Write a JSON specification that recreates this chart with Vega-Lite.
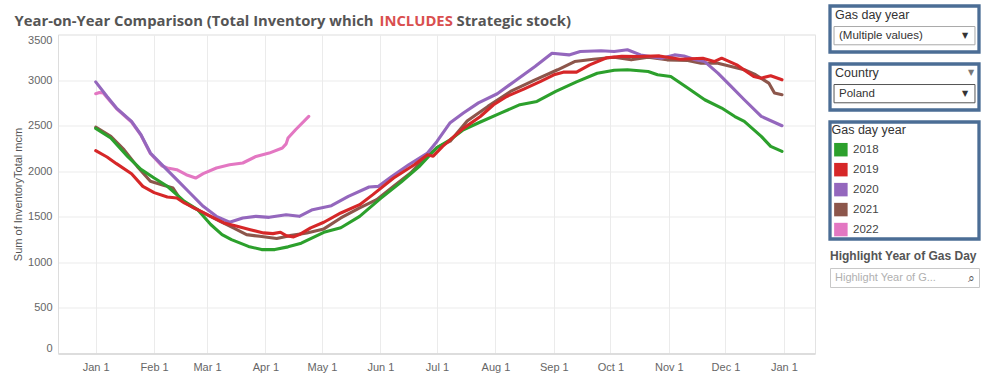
{
  "$schema": "https://vega.github.io/schema/vega-lite/v6.json",
  "background": "white",
  "padding": {"left": 12, "top": 4, "right": 6, "bottom": 4},
  "config": {
    "font": "Liberation Sans",
    "axis": {"labelFont": "Liberation Sans", "titleFont": "Liberation Sans"},
    "text": {"font": "Liberation Sans"}
  },
  "datasets": {
    "inventory": [
      {"day": "2019-01-01", "year": "2022", "inventory": 2850},
      {"day": "2019-01-03", "year": "2022", "inventory": 2864},
      {"day": "2019-01-05", "year": "2022", "inventory": 2858},
      {"day": "2019-01-07", "year": "2022", "inventory": 2810},
      {"day": "2019-01-12", "year": "2022", "inventory": 2688},
      {"day": "2019-01-20", "year": "2022", "inventory": 2540},
      {"day": "2019-01-25", "year": "2022", "inventory": 2395},
      {"day": "2019-01-30", "year": "2022", "inventory": 2195},
      {"day": "2019-02-05", "year": "2022", "inventory": 2060},
      {"day": "2019-02-08", "year": "2022", "inventory": 2035},
      {"day": "2019-02-13", "year": "2022", "inventory": 2017},
      {"day": "2019-02-18", "year": "2022", "inventory": 1962},
      {"day": "2019-02-23", "year": "2022", "inventory": 1925},
      {"day": "2019-02-27", "year": "2022", "inventory": 1973},
      {"day": "2019-03-06", "year": "2022", "inventory": 2035},
      {"day": "2019-03-13", "year": "2022", "inventory": 2071},
      {"day": "2019-03-20", "year": "2022", "inventory": 2090},
      {"day": "2019-03-27", "year": "2022", "inventory": 2162},
      {"day": "2019-04-03", "year": "2022", "inventory": 2199},
      {"day": "2019-04-10", "year": "2022", "inventory": 2254},
      {"day": "2019-04-12", "year": "2022", "inventory": 2300},
      {"day": "2019-04-13", "year": "2022", "inventory": 2364},
      {"day": "2019-04-17", "year": "2022", "inventory": 2455},
      {"day": "2019-04-24", "year": "2022", "inventory": 2601},

      {"day": "2019-01-01", "year": "2021", "inventory": 2483},
      {"day": "2019-01-09", "year": "2021", "inventory": 2382},
      {"day": "2019-01-16", "year": "2021", "inventory": 2236},
      {"day": "2019-01-23", "year": "2021", "inventory": 2053},
      {"day": "2019-01-30", "year": "2021", "inventory": 1889},
      {"day": "2019-02-05", "year": "2021", "inventory": 1852},
      {"day": "2019-02-11", "year": "2021", "inventory": 1816},
      {"day": "2019-02-15", "year": "2021", "inventory": 1688},
      {"day": "2019-02-22", "year": "2021", "inventory": 1597},
      {"day": "2019-03-01", "year": "2021", "inventory": 1523},
      {"day": "2019-03-08", "year": "2021", "inventory": 1450},
      {"day": "2019-03-15", "year": "2021", "inventory": 1378},
      {"day": "2019-03-22", "year": "2021", "inventory": 1304},
      {"day": "2019-03-29", "year": "2021", "inventory": 1286},
      {"day": "2019-04-07", "year": "2021", "inventory": 1262},
      {"day": "2019-04-14", "year": "2021", "inventory": 1293},
      {"day": "2019-04-23", "year": "2021", "inventory": 1323},
      {"day": "2019-05-02", "year": "2021", "inventory": 1367},
      {"day": "2019-05-11", "year": "2021", "inventory": 1487},
      {"day": "2019-05-21", "year": "2021", "inventory": 1597},
      {"day": "2019-05-30", "year": "2021", "inventory": 1688},
      {"day": "2019-06-08", "year": "2021", "inventory": 1834},
      {"day": "2019-06-17", "year": "2021", "inventory": 1980},
      {"day": "2019-06-22", "year": "2021", "inventory": 2090},
      {"day": "2019-07-01", "year": "2021", "inventory": 2258},
      {"day": "2019-07-08", "year": "2021", "inventory": 2330},
      {"day": "2019-07-17", "year": "2021", "inventory": 2550},
      {"day": "2019-07-28", "year": "2021", "inventory": 2711},
      {"day": "2019-08-09", "year": "2021", "inventory": 2875},
      {"day": "2019-08-22", "year": "2021", "inventory": 3003},
      {"day": "2019-09-03", "year": "2021", "inventory": 3113},
      {"day": "2019-09-12", "year": "2021", "inventory": 3203},
      {"day": "2019-09-22", "year": "2021", "inventory": 3229},
      {"day": "2019-10-03", "year": "2021", "inventory": 3250},
      {"day": "2019-10-12", "year": "2021", "inventory": 3222},
      {"day": "2019-10-21", "year": "2021", "inventory": 3250},
      {"day": "2019-10-31", "year": "2021", "inventory": 3222},
      {"day": "2019-11-11", "year": "2021", "inventory": 3214},
      {"day": "2019-11-18", "year": "2021", "inventory": 3185},
      {"day": "2019-11-27", "year": "2021", "inventory": 3185},
      {"day": "2019-12-04", "year": "2021", "inventory": 3149},
      {"day": "2019-12-11", "year": "2021", "inventory": 3113},
      {"day": "2019-12-17", "year": "2021", "inventory": 3058},
      {"day": "2019-12-24", "year": "2021", "inventory": 2967},
      {"day": "2019-12-27", "year": "2021", "inventory": 2857},
      {"day": "2019-12-31", "year": "2021", "inventory": 2839},

      {"day": "2019-01-01", "year": "2020", "inventory": 2980},
      {"day": "2019-01-07", "year": "2020", "inventory": 2820},
      {"day": "2019-01-12", "year": "2020", "inventory": 2693},
      {"day": "2019-01-20", "year": "2020", "inventory": 2546},
      {"day": "2019-01-25", "year": "2020", "inventory": 2400},
      {"day": "2019-01-30", "year": "2020", "inventory": 2199},
      {"day": "2019-02-06", "year": "2020", "inventory": 2053},
      {"day": "2019-02-13", "year": "2020", "inventory": 1907},
      {"day": "2019-02-20", "year": "2020", "inventory": 1761},
      {"day": "2019-02-27", "year": "2020", "inventory": 1615},
      {"day": "2019-03-06", "year": "2020", "inventory": 1505},
      {"day": "2019-03-13", "year": "2020", "inventory": 1440},
      {"day": "2019-03-20", "year": "2020", "inventory": 1487},
      {"day": "2019-03-27", "year": "2020", "inventory": 1505},
      {"day": "2019-04-03", "year": "2020", "inventory": 1494},
      {"day": "2019-04-12", "year": "2020", "inventory": 1523},
      {"day": "2019-04-19", "year": "2020", "inventory": 1505},
      {"day": "2019-04-26", "year": "2020", "inventory": 1578},
      {"day": "2019-05-06", "year": "2020", "inventory": 1622},
      {"day": "2019-05-15", "year": "2020", "inventory": 1724},
      {"day": "2019-05-26", "year": "2020", "inventory": 1827},
      {"day": "2019-05-31", "year": "2020", "inventory": 1834},
      {"day": "2019-06-07", "year": "2020", "inventory": 1943},
      {"day": "2019-06-16", "year": "2020", "inventory": 2071},
      {"day": "2019-06-26", "year": "2020", "inventory": 2200},
      {"day": "2019-07-01", "year": "2020", "inventory": 2327},
      {"day": "2019-07-08", "year": "2020", "inventory": 2532},
      {"day": "2019-07-15", "year": "2020", "inventory": 2638},
      {"day": "2019-07-23", "year": "2020", "inventory": 2750},
      {"day": "2019-08-02", "year": "2020", "inventory": 2850},
      {"day": "2019-08-11", "year": "2020", "inventory": 2985},
      {"day": "2019-08-22", "year": "2020", "inventory": 3149},
      {"day": "2019-08-31", "year": "2020", "inventory": 3295},
      {"day": "2019-09-09", "year": "2020", "inventory": 3276},
      {"day": "2019-09-15", "year": "2020", "inventory": 3313},
      {"day": "2019-09-26", "year": "2020", "inventory": 3321},
      {"day": "2019-10-03", "year": "2020", "inventory": 3313},
      {"day": "2019-10-10", "year": "2020", "inventory": 3332},
      {"day": "2019-10-17", "year": "2020", "inventory": 3276},
      {"day": "2019-10-28", "year": "2020", "inventory": 3240},
      {"day": "2019-11-04", "year": "2020", "inventory": 3276},
      {"day": "2019-11-09", "year": "2020", "inventory": 3265},
      {"day": "2019-11-15", "year": "2020", "inventory": 3222},
      {"day": "2019-11-20", "year": "2020", "inventory": 3203},
      {"day": "2019-11-27", "year": "2020", "inventory": 3076},
      {"day": "2019-12-04", "year": "2020", "inventory": 2930},
      {"day": "2019-12-11", "year": "2020", "inventory": 2784},
      {"day": "2019-12-20", "year": "2020", "inventory": 2601},
      {"day": "2019-12-31", "year": "2020", "inventory": 2499},

      {"day": "2019-01-01", "year": "2018", "inventory": 2470},
      {"day": "2019-01-09", "year": "2018", "inventory": 2364},
      {"day": "2019-01-18", "year": "2018", "inventory": 2160},
      {"day": "2019-01-25", "year": "2018", "inventory": 2020},
      {"day": "2019-02-01", "year": "2018", "inventory": 1925},
      {"day": "2019-02-08", "year": "2018", "inventory": 1835},
      {"day": "2019-02-17", "year": "2018", "inventory": 1670},
      {"day": "2019-02-24", "year": "2018", "inventory": 1580},
      {"day": "2019-03-03", "year": "2018", "inventory": 1415},
      {"day": "2019-03-09", "year": "2018", "inventory": 1305},
      {"day": "2019-03-14", "year": "2018", "inventory": 1250},
      {"day": "2019-03-23", "year": "2018", "inventory": 1175},
      {"day": "2019-03-30", "year": "2018", "inventory": 1140},
      {"day": "2019-04-06", "year": "2018", "inventory": 1140},
      {"day": "2019-04-13", "year": "2018", "inventory": 1170},
      {"day": "2019-04-20", "year": "2018", "inventory": 1210},
      {"day": "2019-05-02", "year": "2018", "inventory": 1330},
      {"day": "2019-05-11", "year": "2018", "inventory": 1380},
      {"day": "2019-05-21", "year": "2018", "inventory": 1505},
      {"day": "2019-06-01", "year": "2018", "inventory": 1700},
      {"day": "2019-06-12", "year": "2018", "inventory": 1880},
      {"day": "2019-06-22", "year": "2018", "inventory": 2060},
      {"day": "2019-07-01", "year": "2018", "inventory": 2260},
      {"day": "2019-07-08", "year": "2018", "inventory": 2345},
      {"day": "2019-07-15", "year": "2018", "inventory": 2455},
      {"day": "2019-07-24", "year": "2018", "inventory": 2540},
      {"day": "2019-08-04", "year": "2018", "inventory": 2640},
      {"day": "2019-08-14", "year": "2018", "inventory": 2730},
      {"day": "2019-08-23", "year": "2018", "inventory": 2765},
      {"day": "2019-09-02", "year": "2018", "inventory": 2875},
      {"day": "2019-09-13", "year": "2018", "inventory": 2980},
      {"day": "2019-09-24", "year": "2018", "inventory": 3075},
      {"day": "2019-10-03", "year": "2018", "inventory": 3108},
      {"day": "2019-10-10", "year": "2018", "inventory": 3113},
      {"day": "2019-10-21", "year": "2018", "inventory": 3094},
      {"day": "2019-10-26", "year": "2018", "inventory": 3058},
      {"day": "2019-11-02", "year": "2018", "inventory": 3040},
      {"day": "2019-11-11", "year": "2018", "inventory": 2912},
      {"day": "2019-11-20", "year": "2018", "inventory": 2784},
      {"day": "2019-11-29", "year": "2018", "inventory": 2693},
      {"day": "2019-12-06", "year": "2018", "inventory": 2600},
      {"day": "2019-12-11", "year": "2018", "inventory": 2546},
      {"day": "2019-12-20", "year": "2018", "inventory": 2382},
      {"day": "2019-12-25", "year": "2018", "inventory": 2272},
      {"day": "2019-12-31", "year": "2018", "inventory": 2217},

      {"day": "2019-01-01", "year": "2019", "inventory": 2225},
      {"day": "2019-01-07", "year": "2019", "inventory": 2156},
      {"day": "2019-01-12", "year": "2019", "inventory": 2083},
      {"day": "2019-01-20", "year": "2019", "inventory": 1973},
      {"day": "2019-01-26", "year": "2019", "inventory": 1834},
      {"day": "2019-02-01", "year": "2019", "inventory": 1765},
      {"day": "2019-02-08", "year": "2019", "inventory": 1717},
      {"day": "2019-02-13", "year": "2019", "inventory": 1706},
      {"day": "2019-02-17", "year": "2019", "inventory": 1652},
      {"day": "2019-02-24", "year": "2019", "inventory": 1578},
      {"day": "2019-03-03", "year": "2019", "inventory": 1505},
      {"day": "2019-03-10", "year": "2019", "inventory": 1432},
      {"day": "2019-03-17", "year": "2019", "inventory": 1395},
      {"day": "2019-03-24", "year": "2019", "inventory": 1359},
      {"day": "2019-03-31", "year": "2019", "inventory": 1323},
      {"day": "2019-04-05", "year": "2019", "inventory": 1315},
      {"day": "2019-04-09", "year": "2019", "inventory": 1330},
      {"day": "2019-04-12", "year": "2019", "inventory": 1293},
      {"day": "2019-04-16", "year": "2019", "inventory": 1279},
      {"day": "2019-04-19", "year": "2019", "inventory": 1304},
      {"day": "2019-04-25", "year": "2019", "inventory": 1378},
      {"day": "2019-05-02", "year": "2019", "inventory": 1440},
      {"day": "2019-05-11", "year": "2019", "inventory": 1542},
      {"day": "2019-05-21", "year": "2019", "inventory": 1633},
      {"day": "2019-05-28", "year": "2019", "inventory": 1743},
      {"day": "2019-06-08", "year": "2019", "inventory": 1926},
      {"day": "2019-06-19", "year": "2019", "inventory": 2071},
      {"day": "2019-06-26", "year": "2019", "inventory": 2181},
      {"day": "2019-06-29", "year": "2019", "inventory": 2165},
      {"day": "2019-07-04", "year": "2019", "inventory": 2272},
      {"day": "2019-07-15", "year": "2019", "inventory": 2470},
      {"day": "2019-07-24", "year": "2019", "inventory": 2600},
      {"day": "2019-07-31", "year": "2019", "inventory": 2729},
      {"day": "2019-08-07", "year": "2019", "inventory": 2820},
      {"day": "2019-08-16", "year": "2019", "inventory": 2900},
      {"day": "2019-08-25", "year": "2019", "inventory": 2985},
      {"day": "2019-09-01", "year": "2019", "inventory": 3058},
      {"day": "2019-09-06", "year": "2019", "inventory": 3087},
      {"day": "2019-09-13", "year": "2019", "inventory": 3087},
      {"day": "2019-09-20", "year": "2019", "inventory": 3167},
      {"day": "2019-09-29", "year": "2019", "inventory": 3245},
      {"day": "2019-10-07", "year": "2019", "inventory": 3260},
      {"day": "2019-10-16", "year": "2019", "inventory": 3258},
      {"day": "2019-10-27", "year": "2019", "inventory": 3265},
      {"day": "2019-11-07", "year": "2019", "inventory": 3229},
      {"day": "2019-11-19", "year": "2019", "inventory": 3240},
      {"day": "2019-11-25", "year": "2019", "inventory": 3203},
      {"day": "2019-11-29", "year": "2019", "inventory": 3240},
      {"day": "2019-12-07", "year": "2019", "inventory": 3167},
      {"day": "2019-12-16", "year": "2019", "inventory": 3039},
      {"day": "2019-12-20", "year": "2019", "inventory": 3021},
      {"day": "2019-12-25", "year": "2019", "inventory": 3047},
      {"day": "2019-12-31", "year": "2019", "inventory": 3003}
    ]
  },
  "spacing": 12,
  "hconcat": [
    {
      "spacing": 4.5,
      "vconcat": [
        {
          "width": 757,
          "height": 2,
          "view": {"stroke": null},
          "data": {"values": []},
          "mark": {"type": "rect"}
        },
        {
          "width": 757,
          "height": 319,
          "view": {"stroke": "#e3e3e3", "strokeWidth": 1},
          "data": {"name": "inventory"},
          "encoding": {
            "color": {
              "field": "year",
              "type": "nominal",
              "scale": {
                "domain": ["2018", "2019", "2020", "2021", "2022"],
                "range": ["#2ca02c", "#d62728", "#9467bd", "#8c564b", "#e377c2"]
              },
              "legend": null
            }
          },
          "resolve": {"axis": {"x": "independent", "y": "independent"}},
          "layer": [
            {
              "transform": [{"filter": "datum.year === '2022'"}],
              "mark": {"type": "line", "strokeWidth": 3.1, "strokeJoin": "round", "strokeCap": "round"},
              "encoding": {
                "x": {
                  "field": "day",
                  "type": "temporal",
                  "scale": {
                    "type": "utc",
                    "domain": [
                      {"year": 2018, "month": 12, "date": 12, "utc": true},
                      {"year": 2020, "month": 1, "date": 17, "hours": 12, "utc": true}
                    ]
                  },
                  "axis": {
                    "orient": "bottom",
                    "values": [
                      {"year": 2019, "month": 1, "date": 1, "utc": true},
                      {"year": 2019, "month": 2, "date": 1, "utc": true},
                      {"year": 2019, "month": 3, "date": 1, "utc": true},
                      {"year": 2019, "month": 4, "date": 1, "utc": true},
                      {"year": 2019, "month": 5, "date": 1, "utc": true},
                      {"year": 2019, "month": 6, "date": 1, "utc": true},
                      {"year": 2019, "month": 7, "date": 1, "utc": true},
                      {"year": 2019, "month": 8, "date": 1, "utc": true},
                      {"year": 2019, "month": 9, "date": 1, "utc": true},
                      {"year": 2019, "month": 10, "date": 1, "utc": true},
                      {"year": 2019, "month": 11, "date": 1, "utc": true},
                      {"year": 2019, "month": 12, "date": 1, "utc": true},
                      {"year": 2020, "month": 1, "date": 1, "utc": true}
                    ],
                    "format": "%b %-d",
                    "labelColor": "#666666",
                    "labelFontSize": 11,
                    "labelPadding": 8,
                    "ticks": false,
                    "domainColor": "#cccccc",
                    "gridColor": "#ebebeb",
                    "title": "INCLUDES",
                    "titleColor": "#d94f4f",
                    "titleFont": "Open Sans",
                    "titleFontSize": 14.8,
                    "titleFontWeight": "bold",
                    "titleAlign": "left",
                    "titleBaseline": "alphabetic",
                    "titleX": 321,
                    "titleY": -328
                  }
                },
                "y": {
                  "field": "inventory",
                  "type": "quantitative",
                  "scale": {"domain": [0, 3500], "nice": false},
                  "axis": {
                    "orient": "left",
                    "values": [0, 500, 1000, 1500, 2000, 2500, 3000, 3500],
                    "format": "d",
                    "title": "Sum of InventoryTotal mcm",
                    "titleFontSize": 11,
                    "titleFontWeight": "normal",
                    "titleColor": "#555555",
                    "titlePadding": 4,
                    "labelColor": "#666666",
                    "labelFontSize": 11,
                    "labelFlush": true,
                    "labelPadding": 6,
                    "ticks": false,
                    "domainColor": "#dddddd",
                    "gridColor": "#ebebeb"
                  }
                }
              }
            },
            {
              "transform": [{"filter": "datum.year !== '2022'"}],
              "mark": {"type": "line", "strokeWidth": 3.1, "strokeJoin": "round", "strokeCap": "round"},
              "encoding": {
                "x": {
                  "field": "day",
                  "type": "temporal",
                  "scale": {
                    "type": "utc",
                    "domain": [
                      {"year": 2018, "month": 12, "date": 12, "utc": true},
                      {"year": 2020, "month": 1, "date": 17, "hours": 12, "utc": true}
                    ]
                  },
                  "axis": {
                    "orient": "top",
                    "labels": false,
                    "ticks": false,
                    "domain": false,
                    "grid": false,
                    "title": "Year-on-Year Comparison (Total Inventory which",
                    "titleColor": "#555555",
                    "titleFont": "Open Sans",
                    "titleFontSize": 14.8,
                    "titleFontWeight": "bold",
                    "titleAlign": "left",
                    "titleBaseline": "alphabetic",
                    "titleX": -44,
                    "titleY": -9
                  }
                },
                "y": {
                  "field": "inventory",
                  "type": "quantitative",
                  "scale": {"domain": [0, 3500], "nice": false},
                  "axis": {
                    "orient": "right",
                    "labels": false,
                    "ticks": false,
                    "domain": false,
                    "grid": false,
                    "title": "Strategic stock)",
                    "titleAngle": 0,
                    "titleColor": "#555555",
                    "titleFont": "Open Sans",
                    "titleFontSize": 14.8,
                    "titleFontWeight": "bold",
                    "titleAlign": "left",
                    "titleBaseline": "alphabetic",
                    "titleX": -359,
                    "titleY": -9
                  }
                }
              }
            }
          ]
        }
      ]
    },
    {
      "spacing": 8,
      "vconcat": [
        {
          "spacing": 8,
          "vconcat": [
            {
              "spacing": 8,
              "vconcat": [
                {
                  "width": 149,
                  "height": 46,
                  "view": {"stroke": "#4b6d95", "strokeWidth": 3.3, "fill": "white"},
                  "data": {"values": [{"part": "label", "text": "Gas day year"}, {"part": "value", "text": "(Multiple values)"}]},
                  "encoding": {
                    "y": {"field": "part", "type": "nominal", "scale": {"type": "band", "domain": ["label", "value"], "paddingInner": 0.1, "paddingOuter": 0.183, "align": 0.03}, "axis": null},
                    "x": {"datum": "w", "type": "nominal", "scale": {"type": "band", "domain": ["w"], "paddingInner": 0, "paddingOuter": 0.0286}, "axis": null}
                  },
                  "layer": [
                    {"transform": [{"filter": "datum.part === 'value'"}], "mark": {"type": "rect", "fill": "white", "stroke": "#a9a9a9", "strokeWidth": 1}},
                    {"transform": [{"filter": "datum.part === 'label'"}], "mark": {"type": "text", "align": "left", "baseline": "middle", "dx": 1, "fontSize": 12.5, "color": "#333333"}, "encoding": {"x": {"datum": "w", "type": "nominal", "bandPosition": 0}, "text": {"field": "text"}}},
                    {"transform": [{"filter": "datum.part === 'value'"}], "mark": {"type": "text", "align": "left", "baseline": "middle", "dx": 5, "fontSize": 11.5, "color": "#333333"}, "encoding": {"x": {"datum": "w", "type": "nominal", "bandPosition": 0}, "text": {"field": "text"}}},
                    {"transform": [{"filter": "datum.part === 'value'"}], "mark": {"type": "text", "align": "center", "baseline": "middle", "dx": -10, "fontSize": 8, "font": "DejaVu Sans", "color": "#333333", "text": "▼"}, "encoding": {"x": {"datum": "w", "type": "nominal", "bandPosition": 1}}}
                  ]
                },
                {
                  "width": 149,
                  "height": 46,
                  "view": {"stroke": "#4b6d95", "strokeWidth": 3.3, "fill": "white"},
                  "data": {"values": [{"part": "label", "text": "Country"}, {"part": "value", "text": "Poland"}]},
                  "encoding": {
                    "y": {"field": "part", "type": "nominal", "scale": {"type": "band", "domain": ["label", "value"], "paddingInner": 0.1, "paddingOuter": 0.183, "align": 0.03}, "axis": null},
                    "x": {"datum": "w", "type": "nominal", "scale": {"type": "band", "domain": ["w"], "paddingInner": 0, "paddingOuter": 0.0286}, "axis": null}
                  },
                  "layer": [
                    {"transform": [{"filter": "datum.part === 'value'"}], "mark": {"type": "rect", "fill": "white", "stroke": "#555555", "strokeWidth": 1}},
                    {"transform": [{"filter": "datum.part === 'label'"}], "mark": {"type": "text", "align": "left", "baseline": "middle", "dx": 1, "fontSize": 12.5, "color": "#333333"}, "encoding": {"x": {"datum": "w", "type": "nominal", "bandPosition": 0}, "text": {"field": "text"}}},
                    {"transform": [{"filter": "datum.part === 'label'"}], "mark": {"type": "text", "align": "center", "baseline": "middle", "dx": -4, "fontSize": 8, "font": "DejaVu Sans", "color": "#777777", "text": "▼"}, "encoding": {"x": {"datum": "w", "type": "nominal", "bandPosition": 1}}},
                    {"transform": [{"filter": "datum.part === 'value'"}], "mark": {"type": "text", "align": "left", "baseline": "middle", "dx": 5, "fontSize": 11.5, "color": "#333333"}, "encoding": {"x": {"datum": "w", "type": "nominal", "bandPosition": 0}, "text": {"field": "text"}}},
                    {"transform": [{"filter": "datum.part === 'value'"}], "mark": {"type": "text", "align": "center", "baseline": "middle", "dx": -10, "fontSize": 8, "font": "DejaVu Sans", "color": "#333333", "text": "▼"}, "encoding": {"x": {"datum": "w", "type": "nominal", "bandPosition": 1}}}
                  ]
                }
              ]
            },
            {
              "width": 149,
              "height": 117,
              "view": {"stroke": "#4b6d95", "strokeWidth": 3.3, "fill": "white"},
              "data": {"values": [
                {"entry": "Gas day year", "kind": "title"},
                {"entry": "2018", "kind": "year"},
                {"entry": "2019", "kind": "year"},
                {"entry": "2020", "kind": "year"},
                {"entry": "2021", "kind": "year"},
                {"entry": "2022", "kind": "year"}
              ]},
              "encoding": {
                "y": {"field": "entry", "type": "nominal", "scale": {"type": "point", "domain": ["Gas day year", "2018", "2019", "2020", "2021", "2022"], "padding": 0.43, "align": 0.45}, "axis": null},
                "x": {"datum": "w", "type": "nominal", "scale": {"type": "band", "domain": ["w"], "paddingInner": 0, "paddingOuter": 0}, "axis": null}
              },
              "layer": [
                {"transform": [{"filter": "datum.kind === 'title'"}], "mark": {"type": "text", "align": "left", "baseline": "middle", "dx": 1.5, "fontSize": 12.5, "color": "#333333"}, "encoding": {"x": {"datum": "w", "type": "nominal", "bandPosition": 0}, "text": {"field": "entry"}}},
                {"transform": [{"filter": "datum.kind === 'year'"}], "mark": {"type": "point", "shape": "square", "filled": true, "opacity": 1, "size": 182}, "encoding": {"x": {"datum": "w", "type": "nominal", "bandPosition": 0.073}, "color": {"field": "entry", "type": "nominal", "scale": {"domain": ["2018", "2019", "2020", "2021", "2022"], "range": ["#2ca02c", "#d62728", "#9467bd", "#8c564b", "#e377c2"]}, "legend": null}}},
                {"transform": [{"filter": "datum.kind === 'year'"}], "mark": {"type": "text", "align": "left", "baseline": "middle", "dx": 23, "fontSize": 11.5, "color": "#444444"}, "encoding": {"x": {"datum": "w", "type": "nominal", "bandPosition": 0}, "text": {"field": "entry"}}}
              ]
            }
          ]
        },
        {
          "width": 149,
          "height": 19,
          "view": {"stroke": "#c8c8c8", "strokeWidth": 1, "fill": "white"},
          "title": {"text": "Highlight Year of Gas Day", "anchor": "start", "frame": "bounds", "font": "Liberation Sans", "fontSize": 12, "fontWeight": "bold", "color": "#555555", "offset": 5},
          "data": {"values": [{"placeholder": "Highlight Year of G..."}]},
          "encoding": {
            "x": {"datum": "w", "type": "nominal", "scale": {"type": "band", "domain": ["w"], "paddingInner": 0, "paddingOuter": 0}, "axis": null}
          },
          "layer": [
            {"mark": {"type": "text", "align": "left", "baseline": "middle", "dx": 5, "fontSize": 11, "color": "#b0b0b0"}, "encoding": {"x": {"datum": "w", "type": "nominal", "bandPosition": 0}, "text": {"field": "placeholder"}}},
            {"mark": {"type": "text", "align": "center", "baseline": "middle", "dx": -8, "fontSize": 12, "font": "DejaVu Sans", "color": "#555555", "text": "⌕"}, "encoding": {"x": {"datum": "w", "type": "nominal", "bandPosition": 1}}}
          ]
        }
      ]
    }
  ]
}
